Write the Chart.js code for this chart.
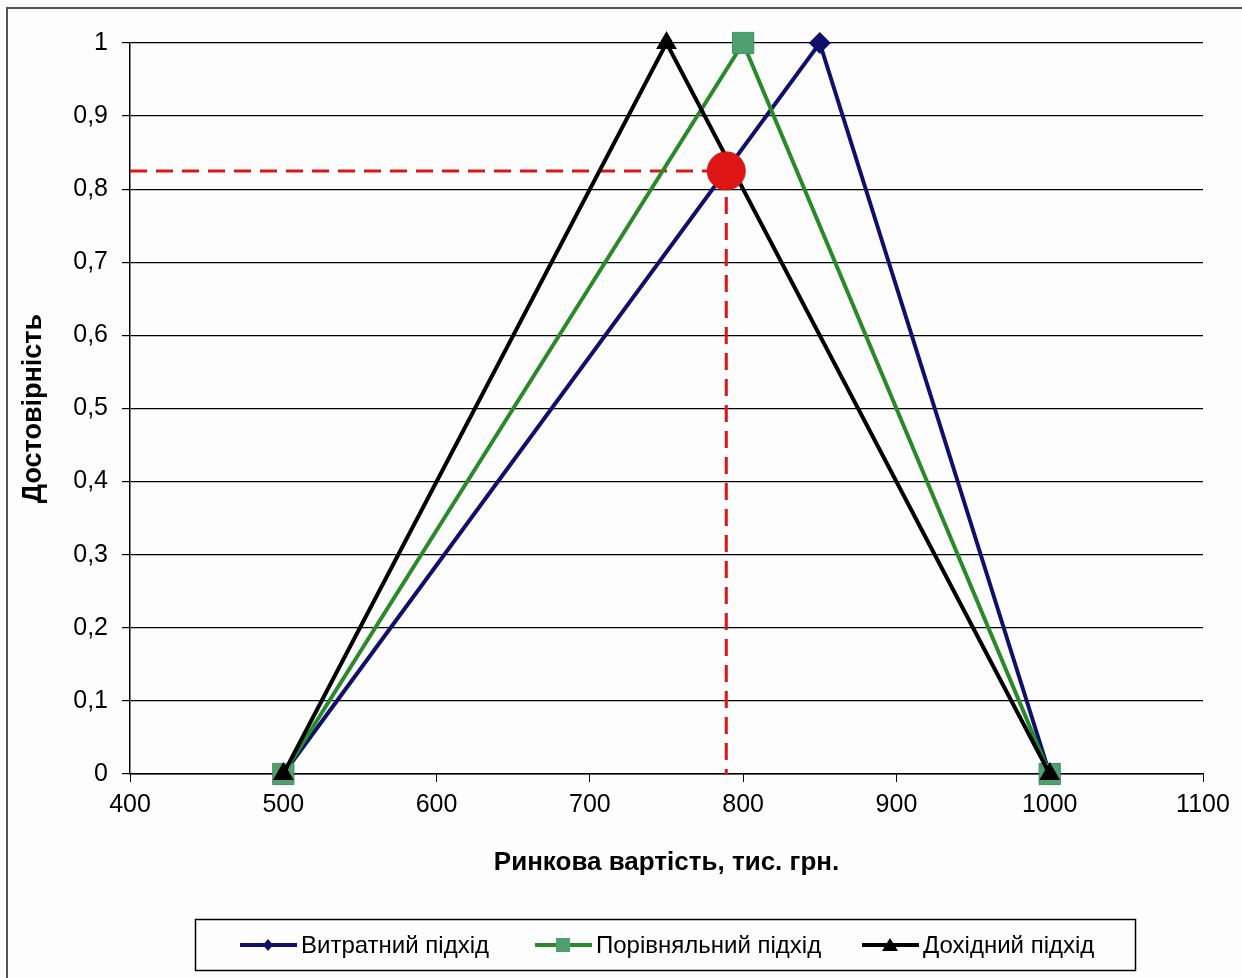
<!DOCTYPE html>
<html>
<head>
<meta charset="utf-8">
<script src="https://cdn.jsdelivr.net/npm/chart.js@4"></script>
<style>
  html, body { margin: 0; padding: 0; background: #fff; }
  #wrap { width: 1242px; height: 978px; position: relative; }
</style>
</head>
<body>
<div id="wrap"><canvas id="reliabilityChart" width="1242" height="978"></canvas></div>
<script>
// Data
const seriesNames = ['Витратний підхід', 'Порівняльний підхід', 'Дохідний підхід'];
const costX = [500, 850, 1000];
const costY = [0, 1, 0];
const compareX = [500, 800, 1000];
const compareY = [0, 1, 0];
const incomeX = [500, 750, 1000];
const incomeY = [0, 1, 0];
const resultX = 789;
const resultY = 0.825;
const xTicks = [400, 500, 600, 700, 800, 900, 1000, 1100];
const yTicks = [0, 0.1, 0.2, 0.3, 0.4, 0.5, 0.6, 0.7, 0.8, 0.9, 1];

const toPoints = (xs, ys) => xs.map((x, i) => ({ x: x, y: ys[i] }));

const FONT = '"Liberation Sans", Arial, sans-serif';
const colors = {
    cost: '#10106a',
    compare: '#2a8a2a',
    compareMarker: '#4f9f73',
    income: '#000000',
    red: '#dd1515'
};

// Outer frame + legend box drawn on the canvas
const framePlugin = {
    id: 'frame',
    beforeDraw(chart) {
        const ctx = chart.ctx;
        ctx.save();
        ctx.fillStyle = '#fdfdfd';
        ctx.fillRect(0, 0, chart.width, chart.height);
        ctx.strokeStyle = '#555';
        ctx.lineWidth = 2;
        ctx.beginPath();
        ctx.moveTo(7, chart.height);
        ctx.lineTo(7, 8);
        ctx.lineTo(chart.width, 8);
        ctx.stroke();
        ctx.restore();
    },
    afterDraw(chart) {
        const ctx = chart.ctx;
        ctx.save();
        ctx.strokeStyle = '#000';
        ctx.lineWidth = 1.5;
        ctx.strokeRect(195.5, 919.5, 940, 51);
        const items = [
            { x: 240, text: seriesNames[0], line: colors.cost, marker: 'diamond', fill: colors.cost },
            { x: 535, text: seriesNames[1], line: colors.compare, marker: 'square', fill: colors.compareMarker },
            { x: 862, text: seriesNames[2], line: colors.income, marker: 'triangle', fill: colors.income }
        ];
        const cy = 945;
        ctx.font = '24px ' + FONT;
        ctx.textBaseline = 'middle';
        items.forEach(it => {
            ctx.strokeStyle = it.line;
            ctx.lineWidth = 4;
            ctx.beginPath();
            ctx.moveTo(it.x, cy);
            ctx.lineTo(it.x + 57, cy);
            ctx.stroke();
            const mx = it.x + 28;
            ctx.fillStyle = it.fill;
            ctx.beginPath();
            if (it.marker === 'diamond') {
                ctx.moveTo(mx, cy - 6); ctx.lineTo(mx + 5, cy); ctx.lineTo(mx, cy + 6); ctx.lineTo(mx - 5, cy);
            } else if (it.marker === 'square') {
                ctx.rect(mx - 7, cy - 7, 14, 14);
            } else {
                ctx.moveTo(mx, cy - 7); ctx.lineTo(mx + 8, cy + 6); ctx.lineTo(mx - 8, cy + 6);
            }
            ctx.closePath();
            ctx.fill();
            ctx.fillStyle = '#000';
            ctx.textAlign = 'left';
            ctx.fillText(it.text, it.x + 61, cy + 1);
        });
        ctx.restore();
    }
};

const ctx = document.getElementById('reliabilityChart').getContext('2d');
new Chart(ctx, {
    type: 'scatter',
    data: {
        datasets: [
            {
                label: 'result',
                data: [{ x: resultX, y: resultY }],
                pointRadius: 19,
                pointHoverRadius: 19,
                backgroundColor: colors.red,
                borderColor: colors.red,
                clip: false,
                order: 0
            },
            {
                label: seriesNames[0],
                data: toPoints(costX, costY),
                showLine: true,
                borderColor: colors.cost,
                backgroundColor: colors.cost,
                borderWidth: 4,
                pointStyle: 'rectRot',
                pointRadius: 11,
                pointBorderWidth: 0,
                clip: false,
                order: 3
            },
            {
                label: seriesNames[1],
                data: toPoints(compareX, compareY),
                showLine: true,
                borderColor: colors.compare,
                backgroundColor: colors.compareMarker,
                pointBorderColor: '#3f9060',
                borderWidth: 4,
                pointStyle: 'rect',
                pointRadius: 15,
                pointBorderWidth: 1,
                clip: false,
                order: 2
            },
            {
                label: seriesNames[2],
                data: toPoints(incomeX, incomeY),
                showLine: true,
                borderColor: colors.income,
                backgroundColor: colors.income,
                borderWidth: 4,
                pointStyle: 'triangle',
                pointRadius: 12,
                pointBorderWidth: 0,
                clip: false,
                order: 1
            },
            {
                label: 'hline',
                data: [{ x: 400, y: resultY }, { x: resultX, y: resultY }],
                showLine: true,
                borderColor: colors.red,
                borderWidth: 3,
                borderDash: [17, 9],
                pointRadius: 0,
                order: 4
            },
            {
                label: 'vline',
                data: [{ x: resultX, y: resultY }, { x: resultX, y: 0 }],
                showLine: true,
                borderColor: colors.red,
                borderWidth: 3,
                borderDash: [17, 9],
                pointRadius: 0,
                order: 4
            }
        ]
    },
    options: {
        responsive: false,
        animation: false,
        layout: { padding: { top: 43, right: 39, bottom: 0, left: 0 } },
        plugins: {
            legend: { display: false },
            tooltip: { enabled: false }
        },
        scales: {
            x: {
                type: 'linear',
                min: 400,
                max: 1100,
                afterFit: scale => { scale.height = 978 - 774; },
                afterBuildTicks: scale => { scale.ticks = xTicks.map(v => ({ value: v })); },
                grid: { drawOnChartArea: false, drawTicks: true, tickLength: 8, color: '#000', tickColor: '#000' },
                border: { display: true, color: '#000', width: 1.5 },
                ticks: {
                    color: '#000',
                    padding: 8,
                    font: { family: FONT, size: 25 },
                    callback: v => String(v)
                },
                title: {
                    display: true,
                    text: 'Ринкова вартість, тис. грн.',
                    color: '#000',
                    padding: { bottom: 100 },
                    font: { family: FONT, size: 26, weight: 'bold' }
                }
            },
            y: {
                min: 0,
                max: 1,
                afterFit: scale => { scale.width = 130; },
                afterBuildTicks: scale => { scale.ticks = yTicks.map(v => ({ value: v })); },
                grid: { color: '#000', lineWidth: 1.2, drawTicks: true, tickLength: 8, tickColor: '#000' },
                border: { display: true, color: '#000', width: 1.5 },
                ticks: {
                    color: '#000',
                    padding: 14,
                    font: { family: FONT, size: 25 },
                    callback: v => (v === 0 || v === 1) ? String(v) : v.toFixed(1).replace('.', ',')
                },
                title: {
                    display: true,
                    text: 'Достовірність',
                    color: '#000',
                    padding: { top: 17 },
                    font: { family: FONT, size: 27, weight: 'bold' }
                }
            }
        }
    },
    plugins: [framePlugin]
});
</script>
</body>
</html>
